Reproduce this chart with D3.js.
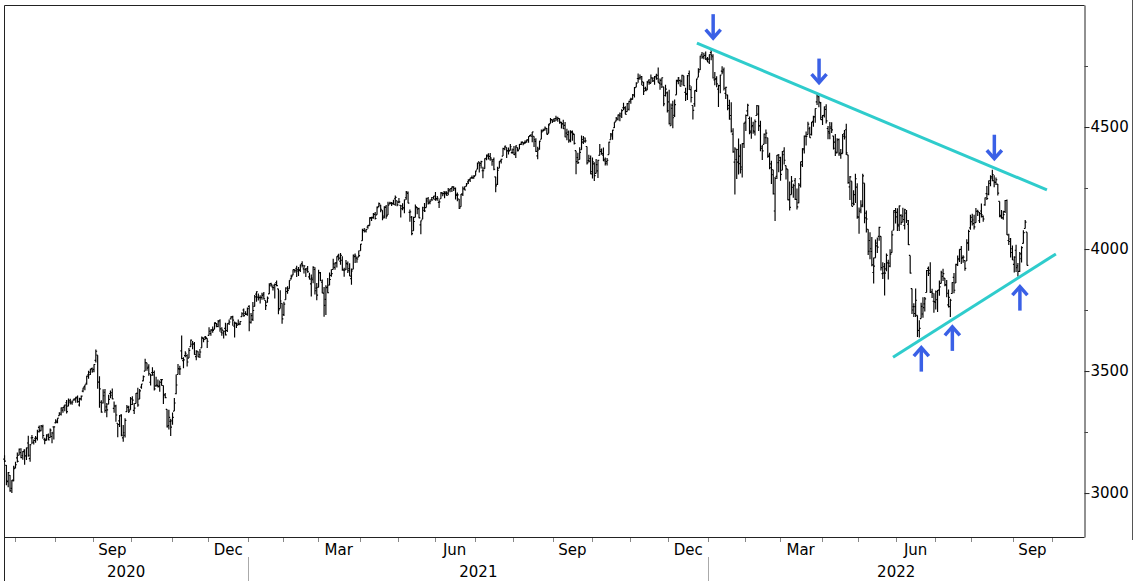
<!DOCTYPE html>
<html>
<head>
<meta charset="utf-8">
<script src="https://cdnjs.cloudflare.com/ajax/libs/d3/7.8.5/d3.min.js"></script>
<style>
body { margin: 0; background: #fff; }
svg { display: block; }
text { font-family: "DejaVu Sans", Verdana, sans-serif; font-size: 15px; fill: #000; }
</style>
</head>
<body>
<div id="chart"></div>
<script>
// daily bars [open, high, low, close], 23 Jun 2020 - 13 Sep 2022
var bars2020 = [
    // Jun
    [3139,3155,3127,3131],[3114,3115,3032,3050],[3047,3086,3024,3084],[3073,3074,3005,3009],[3019,3054,3000,3053],[3050,3112,3048,3100],
    // Jul
    [3106,3128,3101,3116],[3144,3166,3125,3130],[3155,3183,3155,3180],[3166,3184,3143,3145],[3153,3172,3137,3170],[3176,3180,3116,3152],
    [3153,3187,3136,3185],[3205,3235,3149,3155],[3141,3201,3128,3198],[3226,3238,3201,3227],[3208,3220,3199,3216],[3224,3234,3206,3225],
    [3224,3259,3215,3252],[3269,3277,3248,3257],[3255,3279,3253,3276],[3272,3280,3223,3236],[3219,3227,3200,3216],[3220,3241,3214,3239],
    [3234,3244,3216,3218],[3227,3265,3227,3258],[3232,3251,3204,3246],[3271,3272,3220,3271],
    // Aug
    [3288,3303,3285,3295],[3290,3307,3286,3307],[3317,3331,3317,3328],[3323,3351,3318,3349],[3340,3353,3329,3351],[3356,3363,3335,3361],
    [3370,3381,3326,3334],[3356,3388,3356,3380],[3373,3387,3363,3373],[3369,3379,3362,3373],[3381,3388,3379,3382],[3387,3395,3370,3390],
    [3393,3400,3370,3375],[3361,3391,3355,3386],[3386,3400,3379,3397],[3418,3432,3413,3431],[3436,3444,3421,3444],[3450,3481,3444,3479],
    [3485,3501,3468,3485],[3495,3509,3484,3508],[3510,3515,3493,3500],
    // Sep
    [3507,3528,3495,3527],[3544,3588,3535,3581],[3565,3565,3427,3455],[3454,3479,3350,3427],[3372,3380,3329,3332],[3369,3425,3367,3399],
    [3413,3426,3329,3339],[3353,3369,3311,3341],[3364,3403,3364,3384],[3408,3420,3389,3401],[3411,3429,3384,3386],[3347,3375,3329,3357],
    [3357,3362,3292,3320],[3286,3286,3229,3281],[3296,3320,3271,3316],[3320,3323,3233,3237],[3226,3279,3210,3247],[3237,3307,3228,3298],
    [3334,3361,3333,3352],[3351,3358,3328,3336],[3341,3394,3341,3363],
    // Oct
    [3386,3397,3361,3381],[3339,3369,3324,3348],[3367,3410,3367,3409],[3409,3432,3354,3361],[3385,3426,3385,3419],[3434,3447,3428,3447],
    [3460,3482,3458,3477],[3500,3550,3500,3534],[3534,3534,3501,3512],[3516,3528,3481,3489],[3454,3489,3441,3483],[3494,3516,3481,3484],
    [3494,3502,3420,3427],[3439,3477,3436,3443],[3440,3465,3433,3436],[3439,3461,3415,3454],[3465,3467,3440,3465],[3441,3441,3365,3401],
    [3403,3410,3389,3391],[3343,3343,3269,3271],[3277,3341,3260,3310],[3294,3305,3234,3270],
    // Nov
    [3296,3330,3280,3310],[3336,3390,3336,3369],[3407,3486,3405,3443],[3486,3529,3486,3510],[3508,3522,3484,3509],[3583,3646,3548,3551],
    [3543,3557,3512,3546],[3563,3581,3557,3573],[3563,3569,3519,3537],[3553,3594,3553,3585],[3600,3629,3600,3627],[3610,3623,3589,3610],
    [3612,3619,3567,3568],[3559,3585,3544,3582],[3579,3581,3557,3558],[3567,3590,3553,3578],[3595,3642,3595,3635],[3636,3636,3618,3630],
    [3639,3644,3629,3638],[3634,3634,3594,3622],
    // Dec
    [3646,3679,3646,3663],[3654,3671,3645,3669],[3668,3683,3657,3667],[3671,3699,3671,3699],[3695,3697,3679,3692],[3683,3709,3679,3702],
    [3706,3712,3661,3673],[3659,3679,3645,3668],[3656,3666,3633,3663],[3675,3698,3646,3648],[3666,3695,3660,3695],[3696,3711,3689,3701],
    [3714,3725,3711,3722],[3722,3727,3686,3709],[3684,3703,3637,3695],[3698,3698,3676,3687],[3693,3711,3689,3690],[3694,3704,3689,3703],
    [3723,3741,3723,3735],[3750,3756,3723,3727],[3736,3745,3730,3732],[3733,3760,3727,3756]
];

var bars2021 = [
    // Jan
    [3765,3770,3663,3701],[3698,3738,3695,3727],[3712,3783,3705,3748],[3765,3812,3765,3804],[3815,3827,3784,3825],[3803,3818,3789,3800],
    [3802,3811,3777,3801],[3802,3821,3792,3810],[3815,3824,3793,3796],[3789,3789,3750,3768],[3782,3805,3780,3799],[3816,3860,3816,3852],
    [3858,3862,3845,3853],[3844,3852,3830,3842],[3852,3859,3797,3855],[3863,3871,3848,3850],[3837,3837,3733,3751],[3756,3831,3756,3787],
    [3778,3778,3694,3714],
    // Feb
    [3731,3784,3726,3774],[3792,3843,3792,3826],[3840,3848,3817,3830],[3837,3872,3837,3872],[3878,3895,3875,3887],[3893,3916,3893,3916],
    [3911,3918,3903,3911],[3921,3932,3885,3910],[3916,3926,3890,3916],[3912,3937,3906,3935],[3940,3950,3924,3933],[3919,3934,3900,3931],
    [3916,3922,3885,3914],[3921,3930,3903,3907],[3886,3903,3875,3877],[3857,3896,3806,3881],[3874,3929,3860,3925],[3916,3925,3814,3829],
    [3840,3861,3790,3811],
    // Mar
    [3843,3915,3843,3902],[3904,3906,3869,3870],[3864,3875,3819,3820],[3819,3844,3723,3769],[3794,3852,3730,3842],[3844,3881,3819,3821],
    [3852,3904,3852,3875],[3892,3917,3886,3899],[3916,3960,3916,3939],[3925,3945,3915,3943],[3943,3970,3924,3969],[3974,3981,3953,3963],
    [3950,3984,3936,3974],[3954,3970,3911,3916],[3913,3923,3886,3913],[3917,3955,3914,3941],[3938,3949,3902,3911],[3920,3942,3889,3889],
    [3879,3920,3854,3910],[3917,3978,3917,3975],[3969,3982,3943,3971],[3963,3968,3944,3959],[3967,3994,3967,3973],
    // Apr
    [3993,4021,3993,4020],[4034,4083,4034,4078],[4076,4086,4068,4074],[4074,4083,4068,4080],[4090,4098,4083,4097],[4096,4130,4096,4129],
    [4125,4132,4115,4128],[4130,4148,4124,4142],[4142,4152,4121,4125],[4140,4174,4140,4170],[4174,4191,4171,4186],[4180,4181,4151,4163],
    [4159,4159,4118,4135],[4128,4175,4126,4173],[4171,4180,4124,4135],[4139,4194,4139,4180],[4185,4194,4182,4188],[4188,4193,4176,4187],
    [4185,4202,4182,4183],[4206,4219,4177,4212],[4198,4198,4175,4181],
    // May
    [4192,4209,4188,4193],[4179,4179,4129,4165],[4177,4188,4159,4168],[4169,4203,4147,4202],[4210,4238,4202,4233],[4228,4236,4188,4188],
    [4150,4162,4112,4152],[4131,4135,4057,4063],[4075,4132,4075,4113],[4130,4183,4130,4174],[4170,4172,4143,4163],[4166,4169,4126,4128],
    [4099,4117,4061,4116],[4122,4173,4122,4159],[4169,4189,4152,4156],[4170,4210,4170,4197],[4206,4213,4183,4188],[4192,4203,4184,4196],
    [4202,4213,4198,4201],[4211,4218,4204,4204],
    // Jun
    [4217,4234,4198,4202],[4207,4217,4198,4208],[4191,4204,4168,4193],[4206,4234,4206,4230],[4229,4232,4216,4227],[4234,4237,4208,4227],
    [4233,4237,4219,4220],[4229,4250,4220,4239],[4243,4248,4233,4247],[4248,4256,4234,4255],[4255,4257,4238,4247],[4249,4252,4203,4224],
    [4220,4232,4196,4222],[4205,4205,4164,4167],[4173,4226,4173,4225],[4225,4256,4217,4246],[4249,4257,4241,4242],[4257,4271,4257,4267],
    [4275,4286,4267,4281],[4285,4292,4275,4291],[4293,4301,4287,4292],[4291,4302,4288,4298],
    // Jul
    [4301,4321,4301,4320],[4327,4355,4327,4352],[4357,4357,4314,4344],[4351,4362,4330,4358],[4321,4337,4290,4321],[4329,4372,4329,4370],
    [4372,4387,4364,4385],[4381,4392,4367,4369],[4380,4394,4362,4374],[4369,4369,4341,4360],[4367,4375,4323,4327],[4296,4296,4233,4259],
    [4265,4337,4262,4323],[4331,4360,4331,4359],[4361,4370,4350,4368],[4381,4415,4381,4412],[4410,4423,4405,4422],[4416,4416,4373,4402],
    [4403,4416,4387,4401],[4404,4430,4404,4419],[4395,4412,4390,4395],
    // Aug
    [4407,4422,4385,4387],[4393,4424,4373,4423],[4416,4416,4400,4403],[4409,4430,4409,4429],[4429,4441,4426,4437],[4438,4439,4425,4432],
    [4436,4445,4430,4437],[4442,4449,4436,4448],[4446,4462,4436,4461],[4465,4468,4461,4468],[4462,4480,4438,4480],[4462,4462,4418,4448],
    [4441,4454,4398,4400],[4382,4419,4368,4406],[4411,4444,4407,4442],[4450,4490,4450,4480],[4484,4493,4482,4486],[4491,4502,4486,4496],
    [4494,4496,4469,4470],[4474,4513,4474,4509],[4514,4537,4514,4529],[4530,4531,4516,4523],
    // Sep
    [4529,4537,4522,4524],[4535,4546,4525,4537],[4532,4542,4522,4535],[4535,4535,4513,4520],[4518,4522,4494,4514],[4513,4530,4492,4493],
    [4507,4521,4458,4459],[4475,4493,4446,4469],[4479,4486,4436,4443],[4448,4487,4438,4481],[4477,4486,4444,4474],[4470,4472,4428,4433],
    [4403,4403,4306,4358],[4375,4395,4348,4354],[4367,4417,4367,4396],[4407,4465,4407,4449],[4438,4463,4430,4455],[4442,4457,4436,4443],
    [4420,4420,4346,4353],[4362,4386,4355,4360],[4371,4383,4306,4308],
    // Oct
    [4317,4375,4289,4357],[4349,4356,4279,4301],[4310,4369,4310,4346],[4320,4366,4291,4364],[4384,4430,4384,4400],[4407,4412,4386,4391],
    [4385,4416,4361,4361],[4368,4375,4342,4351],[4358,4373,4342,4364],[4387,4440,4387,4438],[4448,4476,4448,4471],[4464,4489,4448,4487],
    [4497,4520,4496,4520],[4524,4541,4524,4536],[4532,4551,4527,4550],[4546,4560,4524,4545],[4554,4573,4537,4567],[4579,4599,4569,4575],
    [4580,4585,4552,4552],[4563,4598,4563,4596],[4573,4608,4568,4605],
    // Nov
    [4611,4620,4595,4614],[4613,4635,4613,4631],[4631,4664,4621,4661],[4663,4683,4663,4680],[4699,4719,4681,4698],[4702,4715,4694,4702],
    [4707,4709,4671,4685],[4670,4685,4631,4647],[4659,4665,4648,4649],[4655,4689,4651,4683],[4689,4697,4673,4683],[4679,4715,4679,4701],
    [4702,4702,4684,4689],[4701,4709,4673,4705],[4708,4718,4694,4698],[4712,4744,4682,4683],[4679,4699,4653,4691],[4676,4703,4660,4702],
    [4665,4665,4585,4595],[4629,4673,4625,4655],[4640,4646,4560,4567],
    // Dec
    [4603,4653,4510,4513],[4505,4596,4505,4577],[4590,4608,4495,4538],[4548,4613,4541,4592],[4632,4694,4632,4687],[4691,4705,4675,4701],
    [4691,4695,4666,4667],[4688,4714,4670,4712],[4710,4710,4668,4669],[4642,4661,4607,4634],[4637,4713,4611,4710],[4719,4732,4652,4669],
    [4653,4667,4600,4621],[4588,4588,4531,4568],[4595,4651,4583,4649],[4650,4698,4644,4697],[4704,4741,4704,4726],[4734,4792,4734,4791],
    [4796,4807,4780,4786],[4789,4804,4778,4793],[4794,4809,4775,4779],[4775,4787,4766,4766]
];

var bars2022 = [
    // Jan
    [4778,4797,4758,4797],[4805,4819,4774,4794],[4788,4798,4699,4701],[4693,4725,4671,4696],[4698,4708,4663,4677],[4655,4673,4582,4670],
    [4669,4714,4638,4713],[4729,4749,4716,4726],[4734,4744,4650,4659],[4638,4665,4615,4663],[4632,4632,4569,4577],[4588,4612,4530,4533],
    [4547,4602,4478,4483],[4471,4495,4395,4398],[4356,4417,4223,4410],[4367,4411,4287,4356],[4408,4453,4305,4350],[4381,4429,4310,4327],
    [4336,4433,4293,4432],[4432,4517,4414,4516],
    // Feb
    [4520,4551,4484,4547],[4566,4595,4544,4589],[4535,4543,4470,4477],[4483,4540,4452,4501],[4506,4522,4472,4484],[4480,4531,4465,4522],
    [4547,4590,4547,4587],[4553,4589,4484,4504],[4506,4526,4401,4419],[4413,4426,4365,4402],[4429,4473,4429,4471],[4456,4490,4430,4475],
    [4456,4456,4374,4380],[4385,4395,4327,4349],[4333,4362,4267,4305],[4325,4325,4223,4226],[4156,4295,4115,4289],[4298,4385,4287,4385],
    [4354,4389,4315,4374],
    // Mar
    [4363,4378,4280,4306],[4323,4402,4323,4387],[4401,4417,4346,4364],[4342,4342,4285,4329],[4327,4327,4200,4201],[4203,4277,4158,4171],
    [4223,4299,4223,4278],[4253,4268,4210,4260],[4280,4291,4201,4204],[4203,4248,4162,4173],[4189,4271,4188,4262],[4288,4358,4252,4358],
    [4345,4413,4336,4412],[4407,4465,4391,4463],[4462,4482,4424,4461],[4469,4522,4469,4512],[4493,4501,4456,4456],[4470,4521,4465,4520],
    [4523,4546,4501,4543],[4541,4576,4518,4576],[4603,4637,4590,4632],[4624,4628,4581,4602],[4599,4603,4530,4530],
    // Apr
    [4540,4549,4508,4546],[4548,4584,4539,4583],[4572,4593,4514,4525],[4494,4504,4450,4481],[4475,4521,4450,4500],[4494,4520,4475,4488],
    [4463,4464,4408,4413],[4438,4471,4381,4397],[4394,4454,4393,4447],[4449,4453,4382,4393],[4386,4410,4370,4392],[4391,4471,4391,4462],
    [4472,4488,4449,4459],[4489,4513,4385,4394],[4386,4386,4268,4272],[4255,4299,4201,4296],[4278,4278,4175,4175],[4187,4241,4178,4184],
    [4223,4308,4189,4288],[4254,4270,4124,4132],
    // May
    [4131,4170,4063,4155],[4160,4200,4147,4176],[4181,4308,4171,4300],[4270,4270,4106,4147],[4128,4158,4068,4123],[4081,4081,3976,3991],
    [4035,4069,3958,4001],[3990,4049,3929,3935],[3904,3965,3859,3930],[3964,4039,3964,4024],[4013,4047,3984,4008],[4052,4091,4034,4089],
    [4052,4052,3912,3924],[3899,3946,3877,3901],[3928,3943,3810,3901],[3919,3982,3909,3974],[3943,3956,3875,3942],[3930,3999,3925,3979],
    [3985,4075,3985,4058],[4077,4159,4077,4158],[4151,4168,4105,4132],
    // Jun
    [4150,4167,4074,4101],[4095,4178,4074,4177],[4138,4143,4099,4109],[4135,4169,4109,4121],[4097,4165,4080,4161],[4147,4160,4107,4116],
    [4102,4119,4017,4018],[3974,3974,3900,3901],[3838,3838,3734,3750],[3764,3778,3722,3736],[3764,3838,3722,3790],[3728,3728,3640,3667],
    [3666,3708,3637,3675],[3715,3780,3715,3765],[3734,3802,3718,3760],[3775,3803,3744,3796],[3822,3914,3822,3912],[3921,3928,3890,3900],
    [3913,3946,3820,3822],[3825,3837,3799,3819],[3786,3819,3739,3785],
    // Jul
    [3781,3830,3752,3825],[3793,3832,3742,3831],[3832,3871,3809,3845],[3859,3911,3859,3903],[3888,3919,3869,3899],[3881,3881,3847,3854],
    [3852,3873,3802,3819],[3771,3834,3760,3802],[3764,3796,3722,3790],[3818,3864,3817,3863],[3884,3902,3819,3831],[3861,3940,3861,3937],
    [3935,3974,3930,3960],[3956,3999,3947,3999],[3998,4012,3939,3962],[3966,3975,3944,3967],[3953,3953,3911,3921],[3951,4040,3951,4024],
    [4026,4079,3993,4072],[4087,4140,4079,4130],
    // Aug
    [4112,4145,4096,4119],[4104,4141,4080,4091],[4108,4168,4108,4155],[4155,4161,4135,4152],[4116,4152,4107,4145],[4156,4187,4129,4140],
    [4133,4137,4112,4123],[4181,4211,4177,4210],[4227,4258,4201,4207],[4225,4281,4220,4280],[4269,4302,4257,4297],[4291,4325,4278,4305],
    [4280,4302,4253,4274],[4273,4293,4262,4284],[4266,4266,4219,4229],[4195,4195,4130,4138],[4133,4160,4124,4129],[4127,4157,4120,4141],
    [4153,4201,4148,4199],[4199,4203,4058,4058],[4035,4063,4017,4031],[4041,4045,3965,3986],[4001,4015,3955,3955],
    // Sep
    [3937,3970,3904,3967],[3995,4018,3906,3924],[3931,3943,3887,3908],[3909,3988,3906,3980],[3960,4011,3945,4006],[4023,4077,4023,4067],
    [4084,4119,4084,4110],[4069,4069,3933,3933]
];

// trading days per month, Jun 2020 (from the 23rd) to Sep 2022
var monthDays = [6, 22, 21, 21, 22, 20, 22,
    19, 19, 23, 21, 20, 22, 21, 22, 21, 21, 21, 22,
    20, 19, 23, 20, 21, 21, 20, 23, 21];
var firstYear = 2020;
var firstMonth = 5;
var monthNames = ["Jan", "Feb", "Mar", "Apr", "May", "Jun", "Jul", "Aug", "Sep", "Oct", "Nov", "Dec"];

var priceTicks = [3000, 3500, 4000, 4500];
var priceMinor = [3250, 3750, 4250, 4750];

// trend lines as [bar index, price]
var upperLine = [[379.2, 4844], [570.9, 4242]];
var lowerLine = [[486.6, 3557], [575.8, 3980]];

// bars marked with arrows
var downArrows = [387, 445, 541];
var upArrows = [501, 518, 555];

function drawChart() {
    "use strict";
    var W = 1134, H = 581;
    var left = 4, right = 1084, top = 5, bottom = 537;

    var bars = bars2020.concat(bars2021, bars2022);

    var svg = d3.select("#chart")
        .append("svg")
        .attr("width", W)
        .attr("height", H);

    var x = d3.scaleLinear().domain([-0.3, 591.2]).range([left, right]);
    var y = d3.scaleLinear().domain([2820, 5000]).range([bottom, top]);

    // frame
    svg.append("path")
        .attr("d", "M" + (left + 0.5) + "," + H + "V" + (top + 0.5) + "H" + (right + 0.5))
        .attr("fill", "none")
        .attr("stroke", "#222")
        .attr("stroke-width", 1);
    svg.append("line")
        .attr("x1", W - 1.5).attr("x2", W - 1.5)
        .attr("y1", 0).attr("y2", bottom + 3)
        .attr("stroke", "#555")
        .attr("stroke-width", 1);

    // right price axis
    var yAxis = d3.axisRight(y)
        .tickValues(priceTicks)
        .tickSize(5)
        .tickSizeOuter(0)
        .tickPadding(1)
        .tickFormat(d3.format("d"));
    var ya = svg.append("g")
        .attr("transform", "translate(" + (right + 0.5) + ",0)")
        .call(yAxis);
    ya.select(".domain").attr("stroke", "#222");
    ya.selectAll(".tick line").attr("stroke", "#222");
    ya.selectAll(".tick text")
        .attr("fill", "#000")
        .style("font-family", "'DejaVu Sans', Verdana, sans-serif")
        .style("font-size", "15px");
    svg.selectAll("line.minor")
        .data(priceMinor)
        .enter()
        .append("line")
        .attr("class", "minor")
        .attr("x1", right + 0.5).attr("x2", right + 4)
        .attr("y1", function (d) { return Math.round(y(d)) + 0.5; })
        .attr("y2", function (d) { return Math.round(y(d)) + 0.5; })
        .attr("stroke", "#444");

    // bottom date axis
    svg.append("line")
        .attr("x1", left).attr("x2", right + 0.5)
        .attr("y1", bottom + 0.5).attr("y2", bottom + 0.5)
        .attr("stroke", "#222");

    var months = [];
    var acc = 0;
    monthDays.forEach(function (n, k) {
        var m = (firstMonth + k) % 12;
        months.push({
            start: acc,
            days: n,
            month: m,
            year: firstYear + Math.floor((firstMonth + k) / 12)
        });
        acc += n;
    });

    var boundaries = months.slice(1).map(function (d) { return d.start; }).concat([acc]);
    svg.selectAll("line.mtick")
        .data(boundaries)
        .enter()
        .append("line")
        .attr("class", "mtick")
        .attr("x1", function (d) { return Math.round(x(d - 0.5)) + 0.5; })
        .attr("x2", function (d) { return Math.round(x(d - 0.5)) + 0.5; })
        .attr("y1", bottom + 1)
        .attr("y2", bottom + 5)
        .attr("stroke", "#888");

    var quarterMonths = months.filter(function (d, k) {
        return k > 0 && d.month % 3 === 2;
    });
    svg.selectAll("text.mlabel")
        .data(quarterMonths)
        .enter()
        .append("text")
        .attr("class", "mlabel")
        .attr("x", function (d) { return x(d.start + (d.days - 1) / 2); })
        .attr("y", 555)
        .attr("text-anchor", "middle")
        .text(function (d) { return monthNames[d.month]; });

    // years
    var years = [];
    months.forEach(function (d) {
        if (!years.length || years[years.length - 1].year !== d.year) {
            years.push({ year: d.year, x0: Math.max(left, x(d.start - 0.5)) });
        }
    });
    years.forEach(function (d, i) {
        d.x1 = i < years.length - 1 ? years[i + 1].x0 : right;
    });

    svg.selectAll("line.ysep")
        .data(years.slice(1))
        .enter()
        .append("line")
        .attr("class", "ysep")
        .attr("x1", function (d) { return Math.round(d.x0) + 0.5; })
        .attr("x2", function (d) { return Math.round(d.x0) + 0.5; })
        .attr("y1", 557)
        .attr("y2", H)
        .attr("stroke", "#aaa");

    svg.selectAll("text.ylabel")
        .data(years)
        .enter()
        .append("text")
        .attr("class", "ylabel")
        .attr("x", function (d) { return (d.x0 + d.x1) / 2; })
        .attr("y", 577)
        .attr("text-anchor", "middle")
        .text(function (d) { return d.year; });

    // OHLC bars
    svg.append("g")
        .selectAll("path")
        .data(bars)
        .enter()
        .append("path")
        .attr("d", function (d, i) {
            var cx = x(i);
            return "M" + cx + "," + y(d[1]) + "V" + y(d[2]) +
                "M" + (cx - 1.3) + "," + y(d[0]) + "H" + cx +
                "M" + cx + "," + y(d[3]) + "H" + (cx + 1.3);
        })
        .attr("fill", "none")
        .attr("stroke", "#000")
        .attr("stroke-width", 1.15);

    // trend lines
    var line = d3.line()
        .x(function (d) { return x(d[0]); })
        .y(function (d) { return y(d[1]); });
    svg.selectAll("path.trend")
        .data([upperLine, lowerLine])
        .enter()
        .append("path")
        .attr("class", "trend")
        .attr("d", line)
        .attr("fill", "none")
        .attr("stroke", "#2fcccc")
        .attr("stroke-width", 3);

    // arrows
    function arrow(i, dir) {
        var cx = x(i) + 2;
        var tip = dir > 0 ? y(bars[i][2]) + 10 : y(bars[i][1]) - 11;
        var tail = tip + dir * 24;
        var g = svg.append("g")
            .attr("fill", "none")
            .attr("stroke", "#3a60e6")
            .attr("stroke-width", 3.5);
        g.append("line")
            .attr("x1", cx).attr("x2", cx)
            .attr("y1", tail).attr("y2", tip + dir * 2);
        g.append("path")
            .attr("d", "M" + (cx - 7.5) + "," + (tip + dir * 8.5) + "L" + cx + "," + tip + "L" + (cx + 7.5) + "," + (tip + dir * 8.5));
    }
    downArrows.forEach(function (i) { arrow(i, -1); });
    upArrows.forEach(function (i) { arrow(i, 1); });
}

drawChart();
</script>
</body>
</html>
